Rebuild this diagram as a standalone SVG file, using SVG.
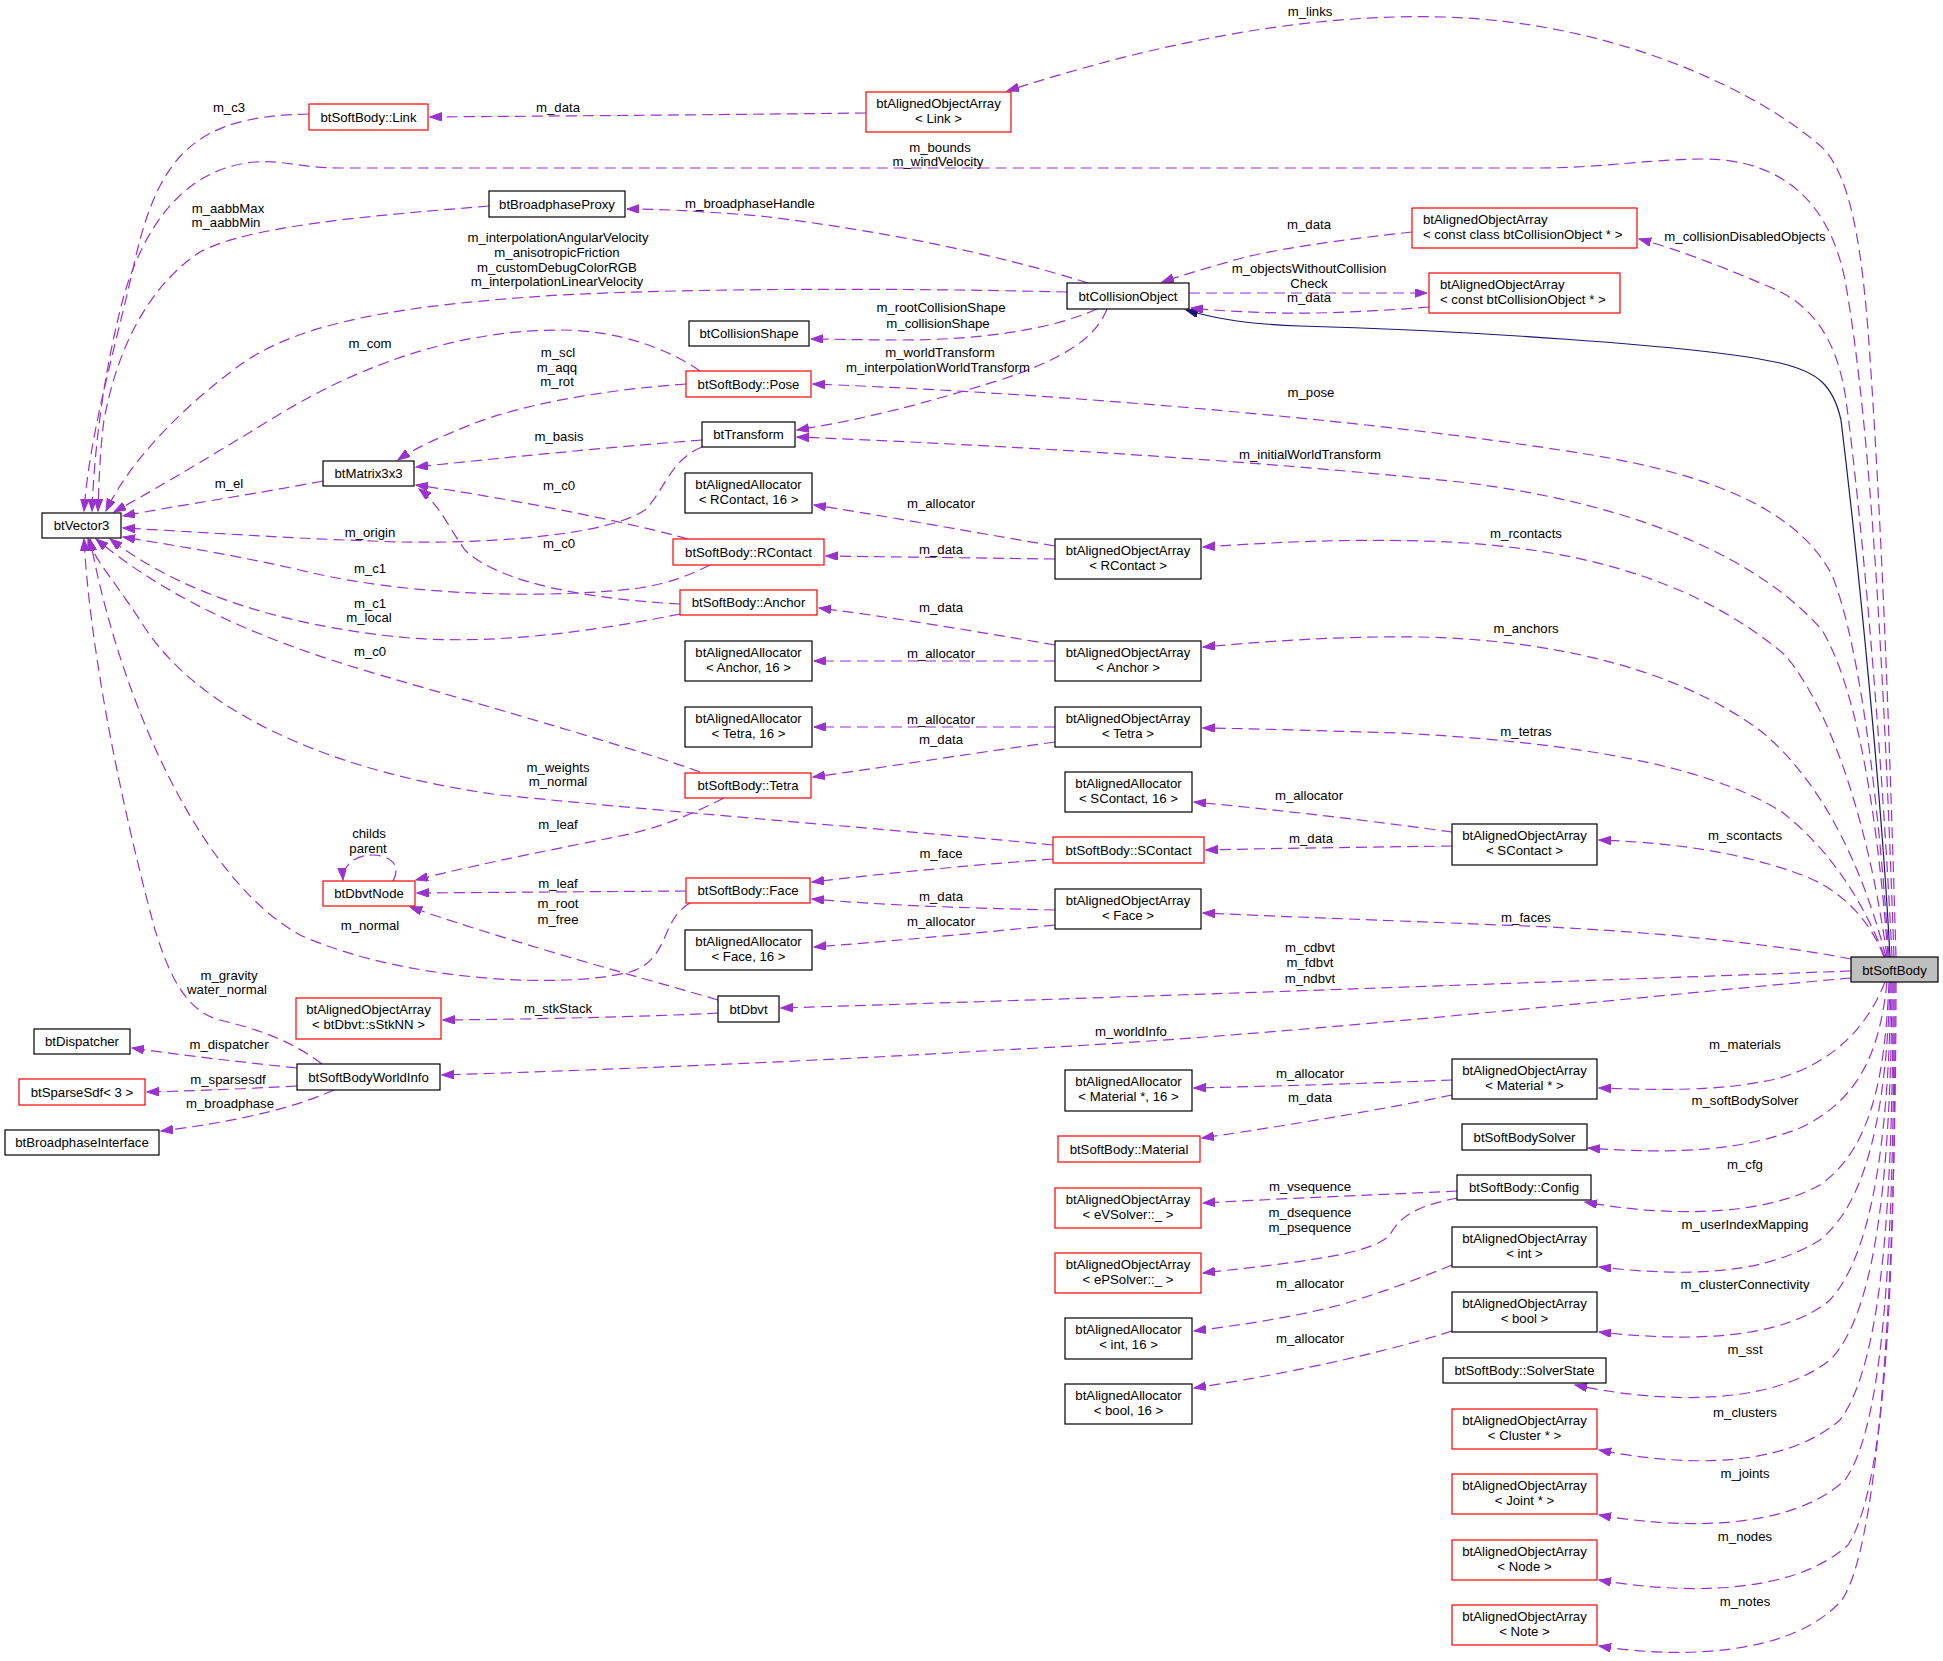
<svg xmlns="http://www.w3.org/2000/svg" width="1943" height="1661" viewBox="0 0 1943 1661">
<style>
.n rect{fill:#fff;stroke:#000;stroke-width:1.2}
.n.r rect{stroke:#ff0000}
.n.g rect{fill:#bfbfbf}
text{font-family:"Liberation Sans",Arial,sans-serif;font-size:13.2px;fill:#000}
.n text{text-anchor:middle}
.n text.l{text-anchor:start}
#edges path{fill:none;stroke:#9a32cd;stroke-width:1.2;stroke-dasharray:11,6}
#edges path.inh{stroke:#191970;stroke-dasharray:none}
#labels text{text-anchor:middle}
</style>
<defs>
<marker id="ap" markerUnits="userSpaceOnUse" markerWidth="13" markerHeight="10" refX="12" refY="4.3" orient="auto"><path d="M0,0 L12,4.3 L0,8.6 z" fill="#9a32cd" stroke="#9a32cd" stroke-width="1"/></marker>
<marker id="an" markerUnits="userSpaceOnUse" markerWidth="13" markerHeight="10" refX="12" refY="4.3" orient="auto"><path d="M0,0 L12,4.3 L0,8.6 z" fill="#191970" stroke="#191970" stroke-width="1"/></marker>
</defs>
<rect width="1943" height="1661" fill="#fff"/>
<g id="edges" marker-end="url(#ap)">
<path d="M1896,957 C1890,750 1882,520 1868,330 C1860,230 1848,178 1825,150 C1765,95 1620,22 1444,17 C1300,13 1150,45 1007,91"/>
<path d="M1894,957 C1885,700 1872,430 1845,280 C1828,195 1775,160 1706,159 C1650,159 1600,168 1540,168 L340,168 C300,168 285,160 255,162 C185,168 145,225 124,295 C108,355 95,430 92,511"/>
<path d="M1892,957 C1882,750 1862,520 1846,400 C1836,330 1805,300 1765,285 C1725,268 1680,250 1639,239"/>
<path class="inh" marker-end="url(#an)" d="M1890,957 C1882,800 1858,560 1841,420 C1833,385 1818,372 1780,363 C1700,345 1450,330 1300,326 C1250,324 1220,320 1186,310"/>
<path d="M1889,957 C1880,820 1862,650 1832,575 C1795,505 1700,470 1560,450 C1400,425 1100,395 813,384"/>
<path d="M1888,957 C1878,820 1858,690 1822,630 C1765,565 1650,505 1460,482 C1250,460 1000,445 797,437"/>
<path d="M1887,957 C1870,830 1832,710 1785,655 C1710,592 1600,545 1420,541 C1340,539 1280,542 1203,547"/>
<path d="M1886,957 C1862,865 1822,782 1762,732 C1682,672 1562,640 1420,637 C1340,636 1270,641 1203,647"/>
<path d="M1885,957 C1862,900 1832,852 1782,812 C1702,762 1562,742 1400,733 C1330,731 1270,729 1203,728"/>
<path d="M1884,957 C1870,920 1842,890 1802,875 C1742,853 1680,843 1599,840"/>
<path d="M1851,959 C1780,945 1650,930 1500,925 C1380,920 1290,917 1203,913"/>
<path d="M1851,971 C1600,980 1200,995 781,1008"/>
<path d="M1851,978 C1600,1000 1300,1035 1000,1050 C800,1062 600,1070 442,1075"/>
<path d="M1885,982 C1870,1020 1840,1060 1780,1078 C1720,1092 1660,1090 1599,1088"/>
<path d="M1887,982 C1880,1050 1860,1100 1800,1128 C1740,1152 1670,1154 1588,1148"/>
<path d="M1889,982 C1885,1080 1870,1150 1820,1185 C1760,1218 1660,1216 1585,1202"/>
<path d="M1890,982 C1887,1100 1870,1200 1820,1240 C1760,1277 1680,1276 1599,1267"/>
<path d="M1891,982 C1889,1120 1876,1250 1830,1300 C1780,1342 1680,1341 1599,1332"/>
<path d="M1892,982 C1891,1150 1880,1310 1830,1360 C1770,1407 1660,1403 1575,1385"/>
<path d="M1893,982 C1893,1180 1885,1360 1840,1420 C1782,1470 1680,1466 1599,1450"/>
<path d="M1894,982 C1894,1210 1888,1420 1845,1480 C1790,1531 1680,1529 1599,1515"/>
<path d="M1895,982 C1895,1240 1890,1480 1848,1545 C1792,1596 1680,1594 1599,1580"/>
<path d="M1896,982 C1896,1250 1882,1540 1842,1600 C1792,1656 1680,1659 1599,1646"/>
<path d="M1088,283 C1000,255 880,230 760,216 C700,211 660,209 627,209"/>
<path d="M1067,292 C900,288 700,288 560,295 C400,305 300,322 240,365 C185,405 130,460 106,511"/>
<path d="M1097,309 C1050,330 980,340 900,340 C860,340 835,339 811,339"/>
<path d="M1107,309 C1095,340 1060,360 1000,380 C920,405 860,420 797,430"/>
<path d="M1189,293 L1427,293"/>
<path d="M1429,307 C1380,311 1320,314 1280,313 C1240,312 1210,310 1191,308"/>
<path d="M1412,232 C1340,240 1265,250 1228,262 C1200,270 1180,276 1162,282"/>
<path d="M309,114 C200,116 160,150 135,260 C115,350 90,430 84,511"/>
<path d="M866,113 C700,115 550,116 430,117"/>
<path d="M489,206 C380,215 250,225 200,252 C150,285 118,345 104,420 C100,450 99,480 98,511"/>
<path d="M700,371 C670,350 620,330 560,330 C450,330 350,370 270,420 C200,463 145,495 114,512"/>
<path d="M686,384 C600,390 520,405 470,425 C440,437 415,448 398,460"/>
<path d="M323,481 C250,495 180,505 123,516"/>
<path d="M702,440 C600,448 500,458 416,467"/>
<path d="M702,447 C670,460 665,490 645,510 C600,540 450,545 373,541 C280,538 200,532 123,528"/>
<path d="M688,539 C640,525 520,500 416,485"/>
<path d="M710,565 C690,575 670,583 640,588 C540,600 400,595 300,570 C220,552 170,545 123,537"/>
<path d="M680,604 C600,600 500,585 465,550 C450,530 440,505 419,489"/>
<path d="M680,614 C600,630 500,645 410,638 C300,628 190,600 110,539"/>
<path d="M700,772 C640,750 500,710 380,675 C260,640 170,600 96,539"/>
<path d="M724,798 C690,815 660,828 620,836 C540,852 470,866 416,880"/>
<path d="M1053,845 C900,830 700,815 500,795 C350,775 200,720 140,620 C110,575 95,560 88,539"/>
<path d="M1053,859 C960,866 880,874 812,882"/>
<path d="M690,903 C660,920 670,960 630,972 C560,990 400,980 300,935 C200,880 120,700 90,539"/>
<path d="M686,891 L417,893"/>
<path d="M393,881 C402,865 390,855 372,855 C355,855 342,866 343,880"/>
<path d="M718,1000 C650,980 520,945 410,907"/>
<path d="M718,1013 C640,1017 540,1019 443,1020"/>
<path d="M322,1064 C290,1040 260,1030 220,1020 C180,1010 165,960 155,930 C120,800 90,650 84,539"/>
<path d="M297,1068 C240,1062 180,1055 132,1048"/>
<path d="M297,1086 C240,1089 190,1091 147,1092"/>
<path d="M334,1090 C300,1105 250,1120 161,1131"/>
<path d="M1055,546 C960,530 880,515 814,505"/>
<path d="M1055,559 L826,556"/>
<path d="M1055,645 C980,632 890,617 819,608"/>
<path d="M1055,661 L814,661"/>
<path d="M1055,727 L814,727"/>
<path d="M1055,742 C960,755 880,768 813,777"/>
<path d="M1452,832 C1380,822 1280,810 1194,802"/>
<path d="M1452,846 C1380,847 1290,848 1206,850"/>
<path d="M1055,910 C960,908 880,905 812,899"/>
<path d="M1055,925 C960,935 880,942 814,947"/>
<path d="M1452,1080 C1380,1083 1280,1086 1194,1088"/>
<path d="M1452,1095 C1380,1110 1290,1125 1202,1138"/>
<path d="M1457,1191 C1380,1195 1290,1198 1203,1203"/>
<path d="M1458,1198 C1420,1205 1400,1215 1390,1235 C1370,1255 1300,1262 1203,1273"/>
<path d="M1452,1265 C1420,1278 1390,1290 1340,1305 C1290,1318 1240,1325 1194,1331"/>
<path d="M1452,1331 C1400,1348 1300,1372 1194,1388"/>
</g>
<g id="labels">
<text x="1310" y="15.5">m_links</text>
<text x="229" y="111.5">m_c3</text>
<text x="558" y="111.5">m_data</text>
<text x="940" y="151.5">m_bounds</text>
<text x="938" y="165.5">m_windVelocity</text>
<text x="228" y="212.5">m_aabbMax</text>
<text x="226" y="226.5">m_aabbMin</text>
<text x="750" y="207.5">m_broadphaseHandle</text>
<text x="558" y="241.5">m_interpolationAngularVelocity</text>
<text x="557" y="256.5">m_anisotropicFriction</text>
<text x="557" y="271.5">m_customDebugColorRGB</text>
<text x="557" y="285.5">m_interpolationLinearVelocity</text>
<text x="1309" y="228.5">m_data</text>
<text x="1745" y="240.5">m_collisionDisabledObjects</text>
<text x="1309" y="272.5">m_objectsWithoutCollision</text>
<text x="1309" y="287.5">Check</text>
<text x="1309" y="301.5">m_data</text>
<text x="941" y="311.5">m_rootCollisionShape</text>
<text x="938" y="327.5">m_collisionShape</text>
<text x="370" y="347.5">m_com</text>
<text x="558" y="356.5">m_scl</text>
<text x="557" y="371.5">m_aqq</text>
<text x="557" y="385.5">m_rot</text>
<text x="940" y="356.5">m_worldTransform</text>
<text x="938" y="371.5">m_interpolationWorldTransform</text>
<text x="1311" y="396.5">m_pose</text>
<text x="559" y="440.5">m_basis</text>
<text x="1310" y="458.5">m_initialWorldTransform</text>
<text x="229" y="487.5">m_el</text>
<text x="559" y="489.5">m_c0</text>
<text x="941" y="507.5">m_allocator</text>
<text x="370" y="536.5">m_origin</text>
<text x="1526" y="537.5">m_rcontacts</text>
<text x="559" y="547.5">m_c0</text>
<text x="941" y="553.5">m_data</text>
<text x="370" y="572.5">m_c1</text>
<text x="370" y="607.5">m_c1</text>
<text x="369" y="621.5">m_local</text>
<text x="941" y="611.5">m_data</text>
<text x="1526" y="632.5">m_anchors</text>
<text x="370" y="655.5">m_c0</text>
<text x="941" y="657.5">m_allocator</text>
<text x="941" y="723.5">m_allocator</text>
<text x="941" y="743.5">m_data</text>
<text x="1526" y="735.5">m_tetras</text>
<text x="558" y="771.5">m_weights</text>
<text x="558" y="785.5">m_normal</text>
<text x="1309" y="799.5">m_allocator</text>
<text x="558" y="828.5">m_leaf</text>
<text x="369" y="837.5">childs</text>
<text x="368" y="852.5">parent</text>
<text x="1745" y="839.5">m_scontacts</text>
<text x="1311" y="842.5">m_data</text>
<text x="941" y="857.5">m_face</text>
<text x="558" y="887.5">m_leaf</text>
<text x="941" y="900.5">m_data</text>
<text x="558" y="907.5">m_root</text>
<text x="558" y="923.5">m_free</text>
<text x="1526" y="921.5">m_faces</text>
<text x="941" y="925.5">m_allocator</text>
<text x="370" y="929.5">m_normal</text>
<text x="1310" y="951.5">m_cdbvt</text>
<text x="1310" y="966.5">m_fdbvt</text>
<text x="1310" y="982.5">m_ndbvt</text>
<text x="229" y="979.5">m_gravity</text>
<text x="227" y="993.5">water_normal</text>
<text x="558" y="1012.5">m_stkStack</text>
<text x="1131" y="1035.5">m_worldInfo</text>
<text x="229" y="1048.5">m_dispatcher</text>
<text x="1745" y="1048.5">m_materials</text>
<text x="1310" y="1077.5">m_allocator</text>
<text x="228" y="1083.5">m_sparsesdf</text>
<text x="1310" y="1101.5">m_data</text>
<text x="1745" y="1104.5">m_softBodySolver</text>
<text x="230" y="1107.5">m_broadphase</text>
<text x="1745" y="1168.5">m_cfg</text>
<text x="1310" y="1190.5">m_vsequence</text>
<text x="1310" y="1216.5">m_dsequence</text>
<text x="1310" y="1231.5">m_psequence</text>
<text x="1745" y="1228.5">m_userIndexMapping</text>
<text x="1310" y="1287.5">m_allocator</text>
<text x="1745" y="1288.5">m_clusterConnectivity</text>
<text x="1310" y="1342.5">m_allocator</text>
<text x="1745" y="1353.5">m_sst</text>
<text x="1745" y="1416.5">m_clusters</text>
<text x="1745" y="1477.5">m_joints</text>
<text x="1745" y="1540.5">m_nodes</text>
<text x="1745" y="1605.5">m_notes</text>
</g>
<g id="btSoftBody" class="n g"><rect x="1851" y="957" width="87" height="25"/><text x="1894.5" y="974.5">btSoftBody</text></g>
<g id="btCollisionObject" class="n"><rect x="1067" y="283" width="122" height="26"/><text x="1128" y="300.5">btCollisionObject</text></g>
<g id="aoaLink" class="n r"><rect x="866" y="92" width="145" height="40"/><text x="938.5" y="108">btAlignedObjectArray</text><text x="938.5" y="122.7">&lt; Link &gt;</text></g>
<g id="link" class="n r"><rect x="309" y="104" width="119" height="26"/><text x="368.5" y="121.5">btSoftBody::Link</text></g>
<g id="btVector3" class="n"><rect x="42" y="513" width="79" height="25"/><text x="81.5" y="530">btVector3</text></g>
<g id="btBroadphaseProxy" class="n"><rect x="489" y="191" width="136" height="26"/><text x="557" y="208.5">btBroadphaseProxy</text></g>
<g id="aoaConstClassCO" class="n r"><rect x="1412" y="208" width="225" height="40"/><text class="l" x="1423" y="224">btAlignedObjectArray</text><text class="l" x="1423" y="238.7">&lt; const class btCollisionObject * &gt;</text></g>
<g id="aoaConstCO" class="n r"><rect x="1429" y="273" width="191" height="40"/><text class="l" x="1440" y="289">btAlignedObjectArray</text><text class="l" x="1440" y="303.7">&lt; const btCollisionObject * &gt;</text></g>
<g id="btCollisionShape" class="n"><rect x="689" y="321" width="120" height="25"/><text x="749" y="338">btCollisionShape</text></g>
<g id="pose" class="n r"><rect x="686" y="371" width="125" height="26"/><text x="748.5" y="388.5">btSoftBody::Pose</text></g>
<g id="btTransform" class="n"><rect x="702" y="422" width="93" height="25"/><text x="748.5" y="439">btTransform</text></g>
<g id="btMatrix3x3" class="n"><rect x="323" y="461" width="91" height="25"/><text x="368.5" y="478">btMatrix3x3</text></g>
<g id="allocRContact" class="n"><rect x="685" y="473" width="127" height="40"/><text x="748.5" y="489">btAlignedAllocator</text><text x="748.5" y="503.7">&lt; RContact, 16 &gt;</text></g>
<g id="rcontact" class="n r"><rect x="673" y="539" width="151" height="26"/><text x="748.5" y="556.5">btSoftBody::RContact</text></g>
<g id="aoaRContact" class="n"><rect x="1055" y="539" width="146" height="40"/><text x="1128" y="555">btAlignedObjectArray</text><text x="1128" y="569.7">&lt; RContact &gt;</text></g>
<g id="anchor" class="n r"><rect x="680" y="590" width="137" height="25"/><text x="748.5" y="607">btSoftBody::Anchor</text></g>
<g id="allocAnchor" class="n"><rect x="685" y="641" width="127" height="40"/><text x="748.5" y="657">btAlignedAllocator</text><text x="748.5" y="671.7">&lt; Anchor, 16 &gt;</text></g>
<g id="aoaAnchor" class="n"><rect x="1055" y="641" width="146" height="40"/><text x="1128" y="657">btAlignedObjectArray</text><text x="1128" y="671.7">&lt; Anchor &gt;</text></g>
<g id="allocTetra" class="n"><rect x="685" y="707" width="127" height="40"/><text x="748.5" y="723">btAlignedAllocator</text><text x="748.5" y="737.7">&lt; Tetra, 16 &gt;</text></g>
<g id="aoaTetra" class="n"><rect x="1055" y="707" width="146" height="40"/><text x="1128" y="723">btAlignedObjectArray</text><text x="1128" y="737.7">&lt; Tetra &gt;</text></g>
<g id="tetra" class="n r"><rect x="685" y="773" width="126" height="25"/><text x="748" y="790">btSoftBody::Tetra</text></g>
<g id="allocSContact" class="n"><rect x="1065" y="772" width="127" height="40"/><text x="1128.5" y="788">btAlignedAllocator</text><text x="1128.5" y="802.7">&lt; SContact, 16 &gt;</text></g>
<g id="aoaSContact" class="n"><rect x="1452" y="824" width="145" height="41"/><text x="1524.5" y="840">btAlignedObjectArray</text><text x="1524.5" y="854.7">&lt; SContact &gt;</text></g>
<g id="scontact" class="n r"><rect x="1053" y="837" width="151" height="26"/><text x="1128.5" y="854.5">btSoftBody::SContact</text></g>
<g id="btDbvtNode" class="n r"><rect x="323" y="881" width="92" height="25"/><text x="369" y="898">btDbvtNode</text></g>
<g id="face" class="n r"><rect x="686" y="878" width="124" height="25"/><text x="748" y="895">btSoftBody::Face</text></g>
<g id="aoaFace" class="n"><rect x="1055" y="889" width="146" height="40"/><text x="1128" y="905">btAlignedObjectArray</text><text x="1128" y="919.7">&lt; Face &gt;</text></g>
<g id="allocFace" class="n"><rect x="685" y="930" width="127" height="40"/><text x="748.5" y="946">btAlignedAllocator</text><text x="748.5" y="960.7">&lt; Face, 16 &gt;</text></g>
<g id="btDbvt" class="n"><rect x="718" y="996" width="61" height="26"/><text x="748.5" y="1013.5">btDbvt</text></g>
<g id="aoaStkNN" class="n r"><rect x="296" y="998" width="145" height="41"/><text x="368.5" y="1014">btAlignedObjectArray</text><text x="368.5" y="1028.7">&lt; btDbvt::sStkNN &gt;</text></g>
<g id="btDispatcher" class="n"><rect x="34" y="1029" width="96" height="25"/><text x="82" y="1046">btDispatcher</text></g>
<g id="btSoftBodyWorldInfo" class="n"><rect x="297" y="1064" width="143" height="26"/><text x="368.5" y="1081.5">btSoftBodyWorldInfo</text></g>
<g id="btSparseSdf" class="n r"><rect x="19" y="1079" width="126" height="26"/><text x="82" y="1096.5">btSparseSdf&lt; 3 &gt;</text></g>
<g id="btBroadphaseInterface" class="n"><rect x="5" y="1130" width="154" height="25"/><text x="82" y="1147">btBroadphaseInterface</text></g>
<g id="allocMaterial" class="n"><rect x="1065" y="1070" width="127" height="41"/><text x="1128.5" y="1086">btAlignedAllocator</text><text x="1128.5" y="1100.7">&lt; Material *, 16 &gt;</text></g>
<g id="aoaMaterial" class="n"><rect x="1452" y="1059" width="145" height="40"/><text x="1524.5" y="1075">btAlignedObjectArray</text><text x="1524.5" y="1089.7">&lt; Material * &gt;</text></g>
<g id="material" class="n r"><rect x="1058" y="1136" width="142" height="26"/><text x="1129" y="1153.5">btSoftBody::Material</text></g>
<g id="btSoftBodySolver" class="n"><rect x="1462" y="1124" width="125" height="26"/><text x="1524.5" y="1141.5">btSoftBodySolver</text></g>
<g id="aoaEVSolver" class="n r"><rect x="1055" y="1188" width="146" height="40"/><text x="1128" y="1204">btAlignedObjectArray</text><text x="1128" y="1218.7">&lt; eVSolver::_ &gt;</text></g>
<g id="config" class="n"><rect x="1457" y="1175" width="134" height="25"/><text x="1524" y="1192">btSoftBody::Config</text></g>
<g id="aoaInt" class="n"><rect x="1452" y="1227" width="145" height="40"/><text x="1524.5" y="1243">btAlignedObjectArray</text><text x="1524.5" y="1257.7">&lt; int &gt;</text></g>
<g id="aoaEPSolver" class="n r"><rect x="1055" y="1253" width="146" height="40"/><text x="1128" y="1269">btAlignedObjectArray</text><text x="1128" y="1283.7">&lt; ePSolver::_ &gt;</text></g>
<g id="aoaBool" class="n"><rect x="1452" y="1292" width="145" height="40"/><text x="1524.5" y="1308">btAlignedObjectArray</text><text x="1524.5" y="1322.7">&lt; bool &gt;</text></g>
<g id="allocInt" class="n"><rect x="1065" y="1318" width="127" height="41"/><text x="1128.5" y="1334">btAlignedAllocator</text><text x="1128.5" y="1348.7">&lt; int, 16 &gt;</text></g>
<g id="solverState" class="n"><rect x="1443" y="1358" width="163" height="25"/><text x="1524.5" y="1375">btSoftBody::SolverState</text></g>
<g id="allocBool" class="n"><rect x="1065" y="1384" width="127" height="40"/><text x="1128.5" y="1400">btAlignedAllocator</text><text x="1128.5" y="1414.7">&lt; bool, 16 &gt;</text></g>
<g id="aoaCluster" class="n r"><rect x="1452" y="1409" width="145" height="40"/><text x="1524.5" y="1425">btAlignedObjectArray</text><text x="1524.5" y="1439.7">&lt; Cluster * &gt;</text></g>
<g id="aoaJoint" class="n r"><rect x="1452" y="1474" width="145" height="40"/><text x="1524.5" y="1490">btAlignedObjectArray</text><text x="1524.5" y="1504.7">&lt; Joint * &gt;</text></g>
<g id="aoaNode" class="n r"><rect x="1452" y="1540" width="145" height="40"/><text x="1524.5" y="1556">btAlignedObjectArray</text><text x="1524.5" y="1570.7">&lt; Node &gt;</text></g>
<g id="aoaNote" class="n r"><rect x="1452" y="1605" width="145" height="40"/><text x="1524.5" y="1621">btAlignedObjectArray</text><text x="1524.5" y="1635.7">&lt; Note &gt;</text></g>
</svg>
